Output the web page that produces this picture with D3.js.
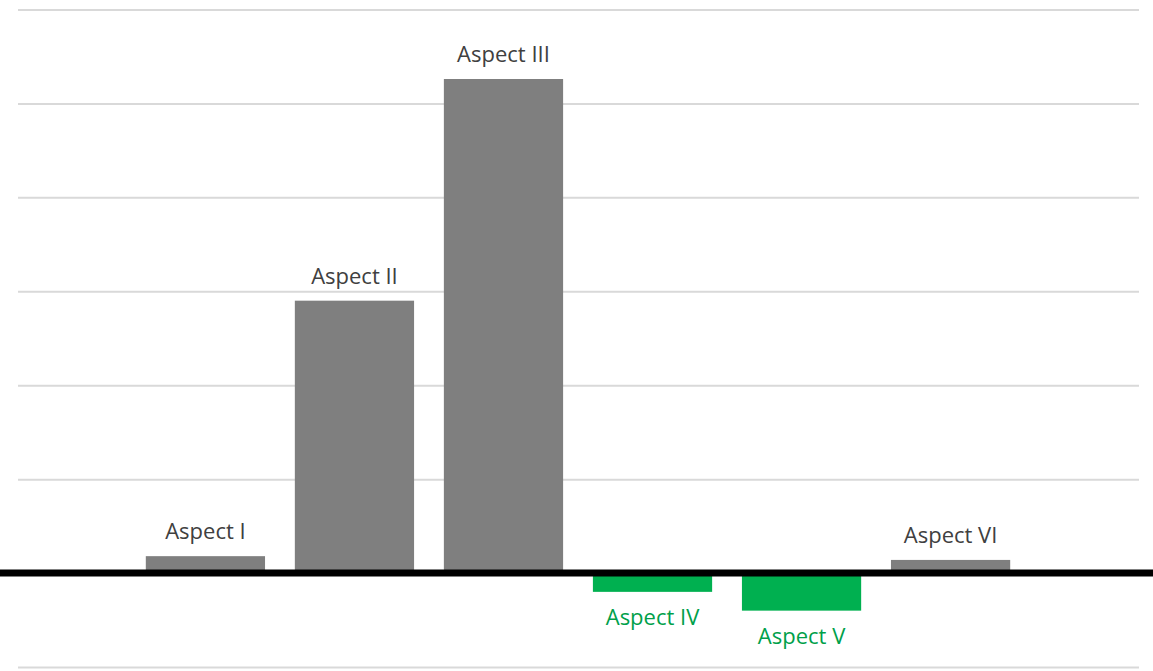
<!DOCTYPE html>
<html>
<head>
<meta charset="utf-8">
<script src="https://cdn.jsdelivr.net/npm/d3@7"></script>
<style>
  html, body { margin: 0; padding: 0; background: #fff; }
  svg { display: block; }
</style>
</head>
<body>
<div id="chart"></div>
<script>
// Chart data
var categories = ['Aspect I', 'Aspect II', 'Aspect III', 'Aspect IV', 'Aspect V', 'Aspect VI'];
var values     = [1.8, 29, 52.6, -2, -4, 1.4];
var gridTicks  = [-10, 0, 10, 20, 30, 40, 50, 60];

var W = 1153, H = 671;

var svg = d3.select('#chart')
  .append('svg')
  .attr('width', W)
  .attr('height', H);

var x = d3.scaleBand()
  .domain(categories)
  .range([116, 1040])
  .padding(0.2);

var y = d3.scaleLinear()
  .domain([-10, 60])
  .range([667, 9.5]);

// Gridlines
svg.append('g')
  .attr('class', 'grid')
  .attr('transform', 'translate(18,0)')
  .call(d3.axisLeft(y).tickValues(gridTicks).tickSize(-(1139 - 18)).tickFormat(''))
  .call(function(g){
    g.select('.domain').remove();
    g.selectAll('.tick line')
      .attr('stroke', '#d9d9d9')
      .attr('stroke-width', 2);
  });

// Bars
var data = categories.map(function(c, i){ return { name: c, value: values[i] }; });

svg.selectAll('.bar')
  .data(data)
  .enter()
  .append('rect')
  .attr('class', 'bar')
  .attr('x', function(d){ return x(d.name); })
  .attr('width', x.bandwidth())
  .attr('y', function(d){ return d.value >= 0 ? y(d.value) : y(0); })
  .attr('height', function(d){ return Math.abs(y(d.value) - y(0)); })
  .attr('fill', function(d){ return d.value >= 0 ? '#7f7f7f' : '#00b050'; });

// Thick zero line
svg.append('line')
  .attr('x1', 0)
  .attr('x2', W)
  .attr('y1', y(0))
  .attr('y2', y(0))
  .attr('stroke', '#000')
  .attr('stroke-width', 7);

// Labels
svg.selectAll('.label')
  .data(data)
  .enter()
  .append('text')
  .attr('class', 'label')
  .attr('x', function(d){ return x(d.name) + x.bandwidth() / 2; })
  .attr('y', function(d){ return d.value >= 0 ? y(d.value) - 17 : y(d.value) + 33; })
  .attr('text-anchor', 'middle')
  .attr('font-family', '"Open Sans", sans-serif')
  .attr('font-size', 22)
  .attr('fill', function(d){ return d.value >= 0 ? '#404040' : '#00a04a'; })
  .text(function(d){ return d.name; });
</script>
</body>
</html>
